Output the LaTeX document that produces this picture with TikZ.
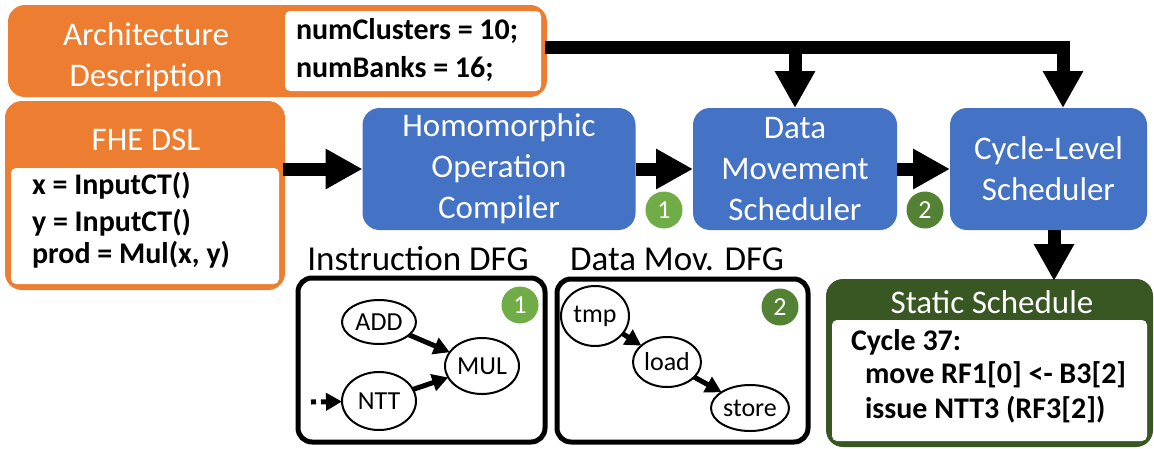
\documentclass[tikz,border=0pt]{standalone}
\usepackage{fontspec}
\setmainfont{Carlito}
\usetikzlibrary{arrows.meta,shapes.geometric}
\definecolor{archOrange}{HTML}{ED7D31}
\definecolor{passBlue}{HTML}{4472C4}
\definecolor{badgeGreen}{HTML}{70AD47}
\definecolor{badgeDarkGreen}{HTML}{548235}
\definecolor{schedGreen}{HTML}{385723}

\begin{document}
\begin{tikzpicture}[x=1pt, y=-1pt,
    every node/.style={inner sep=0pt, outer sep=0pt},
    headtext/.style={text=white, font=\fontsize{33}{41}\selectfont, align=center},
    codetext/.style={font=\fontsize{30}{37}\selectfont\bfseries, anchor=base west},
    panel/.style={rounded corners=15pt, line width=4pt},
    inlay/.style={fill=white, rounded corners=5pt},
    pass/.style={fill=passBlue, rounded corners=17pt, text=white, font=\fontsize{33}{41}\selectfont, align=center},
    bigarrow/.style={line width=13pt, -{Triangle[length=37pt,width=38pt]}},
    dfgbox/.style={draw, line width=5pt, rounded corners=14pt},
    op/.style={ellipse, draw, line width=2pt, font=\fontsize{26}{30}\selectfont},
    dfgarrow/.style={line width=5pt, -{Triangle[length=16pt,width=17pt]}},
    badge/.style={circle, minimum size=37pt, text=white, font=\fontsize{26}{30}\selectfont},
    dfglabel/.style={font=\fontsize{35}{42}\selectfont, anchor=base}]
    \useasboundingbox (0,0) rectangle (1154,448);

    \node[panel, draw=archOrange, fill=archOrange, minimum width=535pt, minimum height=88pt] (arch) at (277.5,51) {};
    \node[inlay, minimum width=256pt, minimum height=80pt] (archcfg) at (413,51) {};
    \node[headtext] (archlbl) at (146,57) {Architecture\\Description};
    \node[codetext] (cfgA) at (296,39) {numClusters = 10;};
    \node[codetext] (cfgB) at (296,77) {numBanks = 16;};

    \node[panel, draw=archOrange, fill=archOrange, minimum width=276pt, minimum height=185pt] (dsl) at (145,195.5) {};
    \node[inlay, minimum width=268pt, minimum height=116pt] (dslcode) at (145,226) {};
    \node[headtext, anchor=base] (dsllbl) at (146,150) {FHE DSL};
    \node[codetext] (lineX) at (32,194) {x = InputCT()};
    \node[codetext] (lineY) at (32,231) {y = InputCT()};
    \node[codetext] (lineP) at (32,263) {prod = Mul(x, y)};

    \node[pass, minimum width=273pt, minimum height=122pt] (hoc) at (499,169) {Homomorphic\\Operation\\Compiler};
    \node[pass, minimum width=204pt, minimum height=122pt] (dms) at (795,169) {Data\\Movement\\Scheduler};
    \node[pass, minimum width=197pt, minimum height=122pt] (cls) at (1048.5,169) {Cycle-Level\\Scheduler};
    \node[badge, fill=badgeGreen] (stepA) at (664,210) {1};
    \node[badge, fill=badgeDarkGreen] (stepB) at (925,210) {2};

    \node[panel, draw=schedGreen, fill=schedGreen, minimum width=323pt, minimum height=164pt] (sched) at (989.5,363) {};
    \node[inlay, minimum width=315pt, minimum height=121pt] (schedcode) at (989.5,380.5) {};
    \node[headtext, anchor=base] (schedlbl) at (992,313) {Static Schedule};
    \node[codetext] (cyc) at (851,350) {Cycle 37:};
    \node[codetext] (mv) at (865,383) {move RF1[0] <- B3[2]};
    \node[codetext] (iss) at (865,418) {issue NTT3 (RF3[2])};

    \node[dfgbox, minimum width=247pt, minimum height=164pt] (idfg) at (421.5,360) {};
    \node[dfglabel] (idfglbl) at (418,270) {Instruction DFG};
    \node[op, minimum width=74pt, minimum height=44pt] (add) at (379,322) {ADD};
    \node[op, minimum width=74pt, minimum height=56pt] (mul) at (482,366) {MUL};
    \node[op, minimum width=74pt, minimum height=58pt] (ntt) at (379,401) {NTT};
    \coordinate (nttin) at (311,402);
    \node[badge, fill=badgeGreen] (badgeA) at (520,305) {1};

    \node[dfgbox, minimum width=251pt, minimum height=163pt] (ddfg) at (682.5,360.5) {};
    \node[dfglabel] (ddfglbl) at (677,270) {Data Mov. DFG};
    \node[op, minimum width=68pt, minimum height=60pt] (tmp) at (595,316) {tmp};
    \node[op, minimum width=68pt, minimum height=50pt] (load) at (667,362) {load};
    \node[op, minimum width=78pt, minimum height=46pt] (store) at (750,408) {store};
    \node[badge, fill=badgeDarkGreen] (badgeB) at (780,307) {2};

    \coordinate (archout) at ([yshift=3.5pt]arch.east);
    \draw[bigarrow] (archout) -| ([xshift=14.5pt]cls.north);
    \draw[bigarrow] (archout -| dms.north) -- (dms.north);
    \draw[bigarrow] (dsl.east |- hoc.west) -- (hoc.west);
    \draw[bigarrow] (hoc.east) -- (dms.west);
    \draw[bigarrow] (dms.east) -- (cls.west);
    \draw[bigarrow] ([xshift=5.5pt]cls.south) -- ([xshift=5.5pt]cls.south |- sched.north);

    \draw[dfgarrow] (add) -- (mul);
    \draw[dfgarrow] (ntt) -- (mul);
    \draw[dfgarrow, dash pattern=on 5pt off 5pt] (nttin) -- (ntt);
    \draw[dfgarrow] (tmp) -- (load);
    \draw[dfgarrow] (load) -- (store);
\end{tikzpicture}
\end{document}
